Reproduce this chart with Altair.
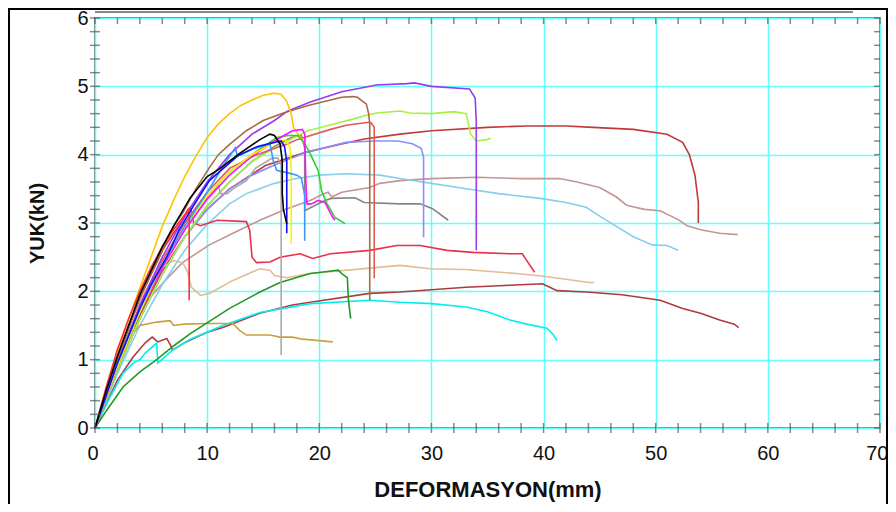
import altair as alt
import pandas as pd

# ---------------- data ----------------
gold_x = [0, 1, 2, 3, 4, 5, 6, 7, 8, 9, 10, 11, 12, 13, 14, 15, 16, 16.6, 17.1, 17.5, 17.7, 18.2, 18.6]
gold_y = [0, 0.55, 1.1, 1.6, 2.05, 2.5, 2.95, 3.33, 3.68, 3.98, 4.25, 4.45, 4.6, 4.72, 4.8, 4.87, 4.9, 4.88, 4.78, 4.6, 4.4, 4.28, 4.2]

sienna_x = [0, 1, 2, 3, 4, 5, 5.6, 7, 7.8, 9, 10.2, 11, 12, 13.5, 15, 17, 19, 21, 22, 23, 23.4, 24.2, 24.4, 24.5, 24.5]
sienna_y = [0, 0.5, 1.0, 1.45, 1.9, 2.25, 2.45, 2.95, 3.14, 3.5, 3.81, 4.0, 4.15, 4.35, 4.5, 4.62, 4.72, 4.8, 4.84, 4.85, 4.84, 4.74, 4.6, 4.45, 1.87]

purple_x = [0, 2, 4, 6, 8, 10, 12, 13, 14, 16, 17.2, 19.2, 22, 25.1, 27.8, 28.5, 30, 33.4, 33.9, 34, 34]
purple_y = [0, 0.95, 1.8, 2.5, 3.1, 3.6, 4.0, 4.15, 4.3, 4.5, 4.64, 4.77, 4.92, 5.02, 5.04, 5.05, 5.0, 4.96, 4.83, 4.5, 2.6]

ygreen_x = [0, 2, 4, 6, 8, 10, 12, 14, 16, 18.1, 19, 21.8, 23, 24, 25.1, 27.2, 28.1, 30, 32, 33.1, 33.3, 33.5, 34, 34.9, 35.3]
ygreen_y = [0, 0.85, 1.6, 2.25, 2.8, 3.25, 3.6, 3.9, 4.1, 4.28, 4.35, 4.47, 4.52, 4.57, 4.61, 4.64, 4.61, 4.6, 4.63, 4.6, 4.45, 4.3, 4.2, 4.22, 4.24]

firebrick_x = [0, 2, 4, 6, 8, 10, 12, 15.2, 18.7, 21, 24, 27.2, 30, 35, 38.5, 42, 44.4, 48, 51, 52.4, 53, 53.5, 53.8, 53.8]
firebrick_y = [0, 0.9, 1.65, 2.3, 2.8, 3.2, 3.5, 3.84, 4.03, 4.12, 4.23, 4.3, 4.35, 4.4, 4.42, 4.42, 4.4, 4.37, 4.3, 4.18, 4.0, 3.7, 3.3, 3.0]

indred_x = [0, 2, 4, 6, 8, 10, 12, 14.3, 17.2, 18, 21, 22.4, 24.2, 24.6, 24.9, 24.9]
indred_y = [0, 0.95, 1.75, 2.45, 3.0, 3.45, 3.8, 3.99, 4.16, 4.22, 4.37, 4.43, 4.47, 4.47, 4.4, 2.19]

rosy_x = [0, 2, 3.5, 4.9, 6.5, 7.8, 10.2, 12.3, 14.7, 17, 19.2, 20.3, 20.8, 21.1, 22, 24.5, 25.4, 27.2, 30, 34, 38, 41.4, 43, 45, 46.5, 47.4, 49, 50.4, 52, 52.8, 54, 55.7, 57.3]
rosy_y = [0, 0.85, 1.45, 1.91, 2.2, 2.42, 2.68, 2.85, 3.04, 3.2, 3.33, 3.42, 3.45, 3.38, 3.45, 3.52, 3.58, 3.62, 3.65, 3.67, 3.65, 3.65, 3.6, 3.52, 3.38, 3.26, 3.2, 3.18, 3.05, 2.96, 2.9, 2.85, 2.83]

sky_x = [0, 2, 4, 6, 8, 10, 12, 13.5, 16, 18, 20, 22.4, 25.4, 27.2, 30, 33.1, 36, 39.7, 42, 43.8, 45, 46.5, 48, 49.7, 51, 52]
sky_y = [0, 0.8, 1.5, 2.1, 2.6, 2.98, 3.28, 3.43, 3.58, 3.65, 3.7, 3.72, 3.7, 3.65, 3.58, 3.5, 3.43, 3.36, 3.3, 3.23, 3.1, 2.95, 2.8, 2.68, 2.67, 2.6]

gray_x = [0, 2, 4, 6, 8, 10, 12, 14, 16, 17.5, 18.4, 18.7, 18.7, 19.3, 20.5, 21.1, 23.2, 24, 27.2, 29, 30.1, 31.5]
gray_y = [0, 0.85, 1.6, 2.25, 2.8, 3.25, 3.6, 3.9, 4.12, 4.25, 4.28, 4.1, 3.18, 3.23, 3.33, 3.36, 3.37, 3.3, 3.28, 3.28, 3.21, 3.04]

dgray_x = [0, 2, 4, 6, 8, 10, 11, 11.2, 11.8, 12.3, 13.5, 14.3, 15.8, 16.3, 16.6, 16.6]
dgray_y = [0, 0.9, 1.7, 2.35, 2.9, 3.35, 3.55, 3.43, 3.43, 3.5, 3.62, 3.8, 3.95, 3.95, 3.85, 1.07]

crimson_x = [0, 1, 2, 3, 4, 5, 6, 7, 7.8, 8.5, 8.8, 9.4, 10.9, 13.5, 13.8, 14, 14.4, 15.6, 16.5, 18.3, 19.4, 21, 24.5, 26.9, 29, 31.4, 33.7, 37, 38.1, 38.5, 39.2]
crimson_y = [0, 0.55, 1.05, 1.5, 1.9, 2.25, 2.6, 2.85, 3.04, 3.23, 3.0, 2.96, 3.04, 3.02, 2.89, 2.5, 2.42, 2.43, 2.5, 2.55, 2.48, 2.55, 2.6, 2.67, 2.67, 2.6, 2.57, 2.55, 2.55, 2.45, 2.28]

red_x = [0, 1, 2, 3, 4, 5, 6, 7, 8, 8.3, 8.4, 8.4]
red_y = [0, 0.6, 1.15, 1.6, 2.0, 2.35, 2.65, 2.9, 3.12, 3.2, 3.1, 1.87]

tan_x = [0, 1, 2, 3, 4, 5, 6, 7, 7.8, 8.2, 8.6, 9.4, 10.2, 12.3, 14.7, 15.6, 16, 17.1, 19.2, 24.5, 27.2, 29.9, 33, 37.6, 40, 44.1, 44.5]
tan_y = [0, 0.55, 1.05, 1.5, 1.85, 2.15, 2.35, 2.45, 2.42, 2.31, 2.06, 1.94, 1.97, 2.16, 2.33, 2.31, 2.23, 2.2, 2.26, 2.34, 2.38, 2.33, 2.32, 2.26, 2.22, 2.13, 2.13]

fgreen_x = [0, 1, 2.5, 4, 5.5, 7, 8.5, 10.2, 12, 14.7, 16.5, 19.2, 20.7, 21.7, 22, 22.5, 22.6, 22.8]
fgreen_y = [0, 0.25, 0.6, 0.82, 1.0, 1.2, 1.38, 1.56, 1.75, 1.99, 2.13, 2.26, 2.29, 2.31, 2.26, 2.2, 1.87, 1.6]

goldenrod_x = [0, 1, 2, 2.85, 4, 5.5, 6.7, 7, 8, 10, 12.3, 12.9, 13.5, 15.6, 16.5, 17.6, 18.5, 21.2]
goldenrod_y = [0, 0.5, 0.95, 1.28, 1.5, 1.55, 1.57, 1.5, 1.52, 1.53, 1.53, 1.43, 1.36, 1.36, 1.33, 1.33, 1.3, 1.26]

brown_x = [0, 1, 2, 3.4, 4.5, 5.1, 5.6, 6.4, 6.8, 6.9, 8, 10, 11.4, 14.7, 17.6, 19.2, 24.5, 27.2, 33.1, 37, 39.9, 41.2, 43.8, 47, 50.4, 52.4, 54, 55.7, 57, 57.4]
brown_y = [0, 0.35, 0.7, 1.04, 1.25, 1.33, 1.26, 1.31, 1.19, 1.14, 1.25, 1.4, 1.47, 1.68, 1.8, 1.84, 1.97, 1.99, 2.06, 2.09, 2.11, 2.01, 1.99, 1.95, 1.87, 1.75, 1.68, 1.58, 1.52, 1.47]

cyan_x = [0, 1, 2.5, 3.4, 4, 4.5, 5.5, 5.6, 6.9, 8.5, 11.4, 14.7, 19.2, 24.5, 27.2, 30, 33.1, 35, 37, 38.5, 40.3, 40.8, 41.2]
cyan_y = [0, 0.35, 0.8, 0.95, 1.0, 1.1, 1.24, 0.95, 1.14, 1.3, 1.5, 1.69, 1.82, 1.87, 1.84, 1.82, 1.77, 1.7, 1.58, 1.52, 1.46, 1.38, 1.28]

black_x = [0, 1, 2, 3, 4, 5, 6, 7, 8.5, 10, 11, 12.9, 14.7, 15.6, 16, 16.5, 16.7, 16.7, 16.8, 17.1]
black_y = [0, 0.55, 1.05, 1.5, 1.95, 2.3, 2.65, 2.95, 3.37, 3.68, 3.78, 4.02, 4.22, 4.3, 4.28, 4.16, 3.91, 3.43, 3.2, 2.99]

blue_x = [0, 2, 4, 5, 6.4, 7.5, 8.7, 10.2, 12.7, 14.5, 16, 16.6, 16.9, 17.1, 17.1]
blue_y = [0, 0.95, 1.75, 2.1, 2.5, 2.9, 3.23, 3.62, 3.98, 4.12, 4.18, 4.2, 4.12, 3.9, 2.85]

dodger_x = [0, 2, 4, 6, 8, 10, 11.5, 12.5, 12.7, 14, 15.6, 15.9, 16.2, 17.3, 18, 18.4, 18.7, 18.7]
dodger_y = [0, 0.95, 1.75, 2.4, 2.95, 3.45, 3.85, 4.1, 3.98, 4.08, 4.16, 3.91, 3.77, 3.73, 3.7, 3.66, 3.4, 2.74]

magenta_x = [0, 2, 4, 6, 8, 10, 12, 14, 16, 17.6, 18.5, 18.7, 18.8, 18.9, 19.3, 19.9, 20.5, 21.2, 21.4]
magenta_y = [0, 0.9, 1.7, 2.35, 2.9, 3.35, 3.7, 3.98, 4.2, 4.35, 4.37, 4.3, 3.6, 3.28, 3.28, 3.33, 3.3, 3.08, 3.04]

lime_x = [0, 2, 4, 6, 8, 10, 12, 14, 16.2, 17.2, 18.1, 18.7, 19.2, 19.6, 19.9, 20.2, 20.7, 21.4, 22.3]
lime_y = [0, 0.9, 1.7, 2.4, 2.95, 3.4, 3.75, 4.0, 4.25, 4.28, 4.28, 4.16, 4.01, 3.87, 3.77, 3.47, 3.28, 3.08, 2.99]

lavender_x = [0, 2, 4, 6, 8, 10, 12, 14, 16, 18.9, 22.4, 24.8, 27, 28.3, 29.1, 29.3, 29.3]
lavender_y = [0, 0.85, 1.6, 2.25, 2.8, 3.2, 3.5, 3.7, 3.85, 4.04, 4.18, 4.2, 4.2, 4.16, 4.09, 3.96, 2.79]

yellow_x = [0, 2, 4, 6, 8, 10, 12, 14, 16, 17, 17.4, 17.5, 17.5]
yellow_y = [0, 0.9, 1.7, 2.4, 2.95, 3.4, 3.75, 4.0, 4.18, 4.22, 4.1, 3.8, 2.7]

series = [
    ("rosy", rosy_x, rosy_y, "#c49595"),
    ("sky", sky_x, sky_y, "#87ceeb"),
    ("firebrick", firebrick_x, firebrick_y, "#c03a3a"),
    ("brown", brown_x, brown_y, "#b03a3a"),
    ("cyan", cyan_x, cyan_y, "#00eef0"),
    ("tan", tan_x, tan_y, "#e2bc94"),
    ("crimson", crimson_x, crimson_y, "#e8304a"),
    ("gray", gray_x, gray_y, "#858585"),
    ("goldenrod", goldenrod_x, goldenrod_y, "#c8a040"),
    ("fgreen", fgreen_x, fgreen_y, "#229922"),
    ("lavender", lavender_x, lavender_y, "#8c8cff"),
    ("ygreen", ygreen_x, ygreen_y, "#a8f040"),
    ("indred", indred_x, indred_y, "#e05a5a"),
    ("purple", purple_x, purple_y, "#9a3af0"),
    ("sienna", sienna_x, sienna_y, "#a86a40"),
    ("gold", gold_x, gold_y, "#ffc400"),
    ("dgray", dgray_x, dgray_y, "#aaaaaa"),
    ("lime", lime_x, lime_y, "#33cc33"),
    ("magenta", magenta_x, magenta_y, "#ff10ff"),
    ("yellow", yellow_x, yellow_y, "#ffee00"),
    ("dodger", dodger_x, dodger_y, "#3c96ff"),
    ("red", red_x, red_y, "#ff3030"),
    ("blue", blue_x, blue_y, "#1010ff"),
    ("black", black_x, black_y, "#000000"),
]

x_labels = [0, 10, 20, 30, 40, 50, 60, 70]
y_labels = [0, 1, 2, 3, 4, 5, 6]
x_minor = [0, 2, 4, 6, 8, 10, 12, 14, 16, 18, 20, 22, 24, 26, 28, 30, 32, 34, 36, 38, 40,
           42, 44, 46, 48, 50, 52, 54, 56, 58, 60, 62, 64, 66, 68, 70]
y_minor = [round(i * 0.2, 1) for i in range(31)]

rows = []
for name, xs, ys, _ in series:
    for i, (xv, yv) in enumerate(zip(xs, ys)):
        rows.append({"series": name, "i": i, "x": xv, "y": yv})
df = pd.DataFrame(rows)

names = [s[0] for s in series]
colors = [s[3] for s in series]

W, H = 785, 410
FONT = "Liberation Sans"

xscale = alt.Scale(domain=[0, 70], nice=False)
yscale = alt.Scale(domain=[0, 6], nice=False)

lines = alt.Chart(df).mark_line(strokeWidth=1.6).encode(
    x=alt.X("x:Q", scale=xscale,
            axis=alt.Axis(values=x_labels, format="d", title="DEFORMASYON(mm)", grid=True,
                          gridColor="#66ffff", gridWidth=1.5, ticks=False, domain=False,
                          labelFontSize=20, labelFont=FONT, labelColor="#111111",
                          labelPadding=15, labelFlush=True, labelFlushOffset=8,
                          titleFont=FONT,
                          titleFontSize=22, titleFontWeight="bold", titleColor="#111111",
                          titlePadding=16)),
    y=alt.Y("y:Q", scale=yscale,
            axis=alt.Axis(values=y_labels, format="d", title="YUK(kN)", grid=True,
                          gridColor="#66ffff", gridWidth=1.5, ticks=False, domain=False,
                          labelFontSize=20, labelFont=FONT, labelColor="#111111",
                          labelPadding=7, labelFlush=False, titleFont=FONT,
                          titleFontSize=20, titleFontWeight="bold", titleColor="#111111",
                          titlePadding=29)),
    color=alt.Color("series:N", scale=alt.Scale(domain=names, range=colors), legend=None),
    order="i:Q",
)

xt = pd.DataFrame({"t": x_minor})
yt = pd.DataFrame({"t": y_minor})
TICK = "#555555"

bottom_ticks = alt.Chart(xt).mark_tick(orient="vertical", color=TICK, thickness=1.5, size=10).encode(
    x=alt.X("t:Q", scale=xscale), y=alt.value(H))
top_ticks = alt.Chart(xt).mark_tick(orient="vertical", color=TICK, thickness=1.5, size=6).encode(
    x=alt.X("t:Q", scale=xscale), y=alt.value(3))
left_ticks = alt.Chart(yt).mark_tick(orient="horizontal", color=TICK, thickness=1.5, size=10).encode(
    y=alt.Y("t:Q", scale=yscale), x=alt.value(0))
right_ticks = alt.Chart(yt).mark_tick(orient="horizontal", color=TICK, thickness=1.5, size=6).encode(
    y=alt.Y("t:Q", scale=yscale), x=alt.value(W - 3))

frame = alt.Chart(pd.DataFrame({"a": [0]})).mark_rect(
    fillOpacity=0, stroke="#000000", strokeWidth=2).encode(
    x=alt.value(-86), x2=alt.value(792), y=alt.value(-9), y2=alt.value(520))
topbar = alt.Chart(pd.DataFrame({"a": [0]})).mark_rule(color="#888888", strokeWidth=2).encode(
    x=alt.value(0), x2=alt.value(758), y=alt.value(-6))

chart = alt.layer(lines, bottom_ticks, top_ticks, left_ticks, right_ticks, frame, topbar).properties(
    width=W, height=H,
    autosize=alt.AutoSizeParams(type="none"),
    padding={"left": 87, "top": 10, "right": 8, "bottom": 76},
).configure_view(stroke="#808080", strokeWidth=2)

chart.save("out.html", embed_options={"renderer": "svg", "actions": False})
